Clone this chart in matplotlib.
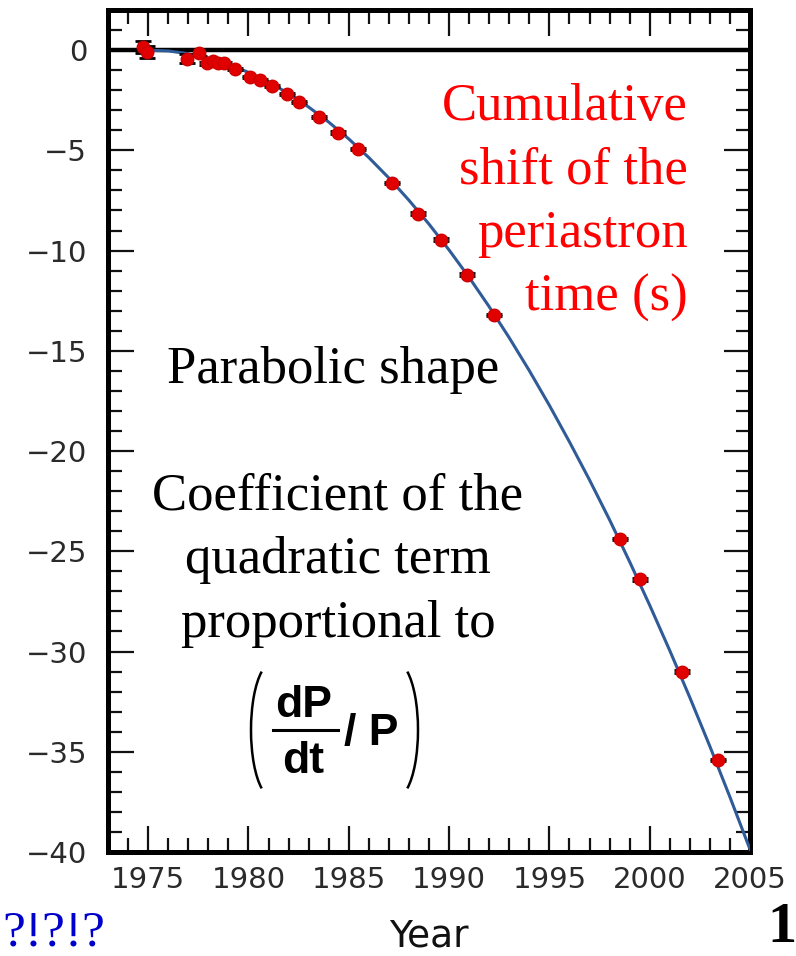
import matplotlib
matplotlib.use('Agg')
import matplotlib.pyplot as plt
import matplotlib.patches as patches
from matplotlib.ticker import MultipleLocator
from matplotlib.transforms import Affine2D

# Measured periastron shift (s) with error bars
years = [1974.75, 1974.95, 1976.95, 1977.55, 1977.93, 1978.23, 1978.5, 1978.78,
         1979.33, 1980.08, 1980.57, 1981.17, 1981.92, 1982.52, 1983.5, 1984.46,
         1985.46, 1987.15, 1988.45, 1989.6, 1990.9, 1992.24, 1998.51, 1999.51,
         2001.6, 2003.39]
shift = [0.15, -0.1, -0.42, -0.15, -0.65, -0.52, -0.63, -0.65,
         -0.93, -1.35, -1.5, -1.78, -2.2, -2.6, -3.35, -4.12,
         -4.94, -6.63, -8.16, -9.45, -11.2, -13.2, -24.4, -26.4,
         -31.0, -35.4]
shift_err = [0.3, 0.3, 0.22, 0.15, 0.08, 0.08, 0.08, 0.08,
             0.06, 0.06, 0.06, 0.06, 0.06, 0.06, 0.06, 0.06,
             0.06, 0.06, 0.06, 0.06, 0.06, 0.06, 0.06, 0.06,
             0.06, 0.06]

# GR prediction curve (yearly)
curve_years = [1974.8, 1976, 1977, 1978, 1979, 1980, 1981, 1982, 1983, 1984,
               1985, 1986, 1987, 1988, 1989, 1990, 1991, 1992, 1993, 1994,
               1995, 1996, 1997, 1998, 1999, 2000, 2001, 2002, 2003, 2004, 2005]
curve_shift = [0.0, -0.04, -0.18, -0.40, -0.71, -1.11, -1.59, -2.17, -2.84, -3.59,
               -4.43, -5.36, -6.38, -7.49, -8.68, -9.97, -11.34, -12.80, -14.35, -15.99,
               -17.72, -19.54, -21.44, -23.43, -25.52, -27.69, -29.95, -32.29, -34.73,
               -37.26, -39.87]

W, H = 796, 956
fig = plt.figure(figsize=(W / 100, H / 100), dpi=100)
ax = fig.add_axes([108 / W, 1 - 852 / H, (750 - 108) / W, (852 - 10) / H])

# pixel coords with origin at top-left, for the annotations
px = Affine2D().scale(1 / W, -1 / H).translate(0, 1) + fig.transFigure

ax.axhline(0, color='black', lw=3.2, zorder=2)
ax.plot(curve_years, curve_shift, color='#2f5b98', lw=2.2, zorder=3)
ax.errorbar(years, shift, yerr=shift_err, fmt='none', ecolor='black',
            elinewidth=1.5, capsize=6, capthick=2, zorder=4)
ax.plot(years, shift, 'o', color='#e00000', ms=9, mec='#d00000', zorder=5)

ax.set_xlim(1973, 2005)
ax.set_ylim(-40, 2)
ax.xaxis.set_major_locator(MultipleLocator(5))
ax.xaxis.set_minor_locator(MultipleLocator(1))
ax.yaxis.set_major_locator(MultipleLocator(5))
ax.yaxis.set_minor_locator(MultipleLocator(1))
ax.tick_params(which='both', direction='in', top=True, right=True,
               color='#111111', width=1.6)
ax.tick_params(which='major', length=19)
ax.tick_params(which='minor', length=10)
ax.tick_params(axis='y', which='major', labelsize=21, pad=15, labelcolor='#2a2a2a')
ax.tick_params(axis='x', which='major', labelsize=21, pad=10, labelcolor='#2a2a2a')
for sp in ax.spines.values():
    sp.set_linewidth(3.6)

fig.text(429, 947, 'Year', transform=px, ha='center', va='baseline',
         fontsize=27, color='#111111')

# annotations
red_lines = ['Cumulative', 'shift of the', 'periastron', 'time (s)']
for i, line in enumerate(red_lines):
    fig.text(688, 120 + i * 63.5, line, transform=px, ha='right', va='baseline',
             fontsize=38, color='#ff0000', family='Liberation Serif')

fig.text(333, 383, 'Parabolic shape', transform=px, ha='center', va='baseline',
         fontsize=38, color='black', family='Liberation Serif')
coef_lines = ['Coefficient of the', 'quadratic term', 'proportional to']
for i, line in enumerate(coef_lines):
    fig.text(338, 510 + i * 63.5, line, transform=px, ha='center', va='baseline',
             fontsize=38, color='black', family='Liberation Serif')

# (dP/dt / P)
sans_bold = dict(transform=px, fontsize=32, fontweight='bold',
                 family='Liberation Sans', color='black', va='baseline')
fig.text(304, 717, 'dP', ha='center', **sans_bold)
fig.text(303, 773, 'dt', ha='center', **sans_bold)
fig.text(344, 745, '/ P', ha='left', **sans_bold)
fig.lines.append(plt.Line2D([273, 338], [730, 730], transform=px,
                            color='black', lw=2.2))
# theta given as true angles of the stretched ellipse
fig.patches.append(patches.Arc((272, 730), 42, 134, theta1=100, theta2=260,
                               transform=px, color='black', lw=1.8))
fig.patches.append(patches.Arc((397, 730), 42, 134, theta1=-80, theta2=80,
                               transform=px, color='black', lw=1.8))

fig.text(2, 946, '?!?!?', transform=px, ha='left', va='baseline',
         fontsize=37, color='#0000cc', family='Liberation Serif')
fig.text(797, 942, '1', transform=px, ha='right', va='baseline',
         fontsize=42, fontweight='bold', color='black', family='Liberation Serif')

fig.savefig('out.png', dpi=100)
